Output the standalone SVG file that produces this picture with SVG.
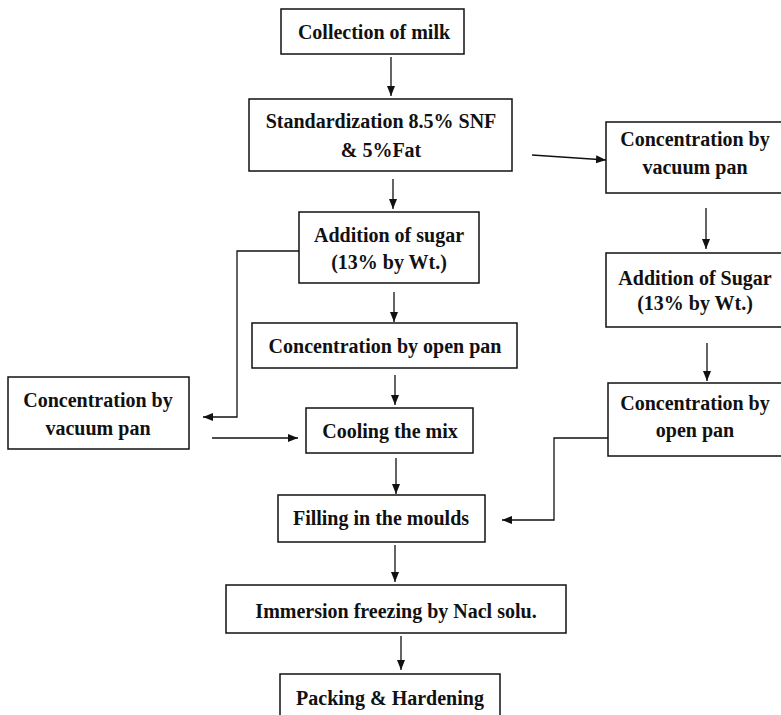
<svg xmlns="http://www.w3.org/2000/svg" width="781" height="715" viewBox="0 0 781 715">
<defs>
<style>
.box{fill:#fff;stroke:#111;stroke-width:1.5}
.t{font-family:"Liberation Serif","Times New Roman",serif;font-weight:bold;font-size:20px;fill:#111;text-anchor:middle}
.c{fill:none;stroke:#111;stroke-width:1.3}
</style>
<marker id="ah" markerUnits="userSpaceOnUse" markerWidth="10" markerHeight="10" viewBox="0 0 10 10" refX="10" refY="5" orient="auto">
<path d="M0,1 L10,5 L0,9 Z" fill="#111"/>
</marker>
</defs>
<rect width="781" height="715" fill="#fff"/>
<g id="connectors">
<line class="c" x1="391" y1="57" x2="391" y2="96" marker-end="url(#ah)"/>
<line class="c" x1="393" y1="179" x2="393" y2="209" marker-end="url(#ah)"/>
<line class="c" x1="394" y1="292" x2="394" y2="322" marker-end="url(#ah)"/>
<line class="c" x1="395" y1="375" x2="395" y2="405" marker-end="url(#ah)"/>
<line class="c" x1="396" y1="458" x2="396" y2="494" marker-end="url(#ah)"/>
<line class="c" x1="395" y1="545" x2="395" y2="582" marker-end="url(#ah)"/>
<line class="c" x1="401" y1="636" x2="401" y2="670" marker-end="url(#ah)"/>
<line class="c" x1="532" y1="155" x2="606" y2="160" marker-end="url(#ah)"/>
<line class="c" x1="706" y1="208" x2="706" y2="249" marker-end="url(#ah)"/>
<line class="c" x1="707" y1="343" x2="707" y2="381" marker-end="url(#ah)"/>
<polyline class="c" points="299,251 237,251 237,417 203,417" marker-end="url(#ah)"/>
<line class="c" x1="212" y1="438" x2="298" y2="438" marker-end="url(#ah)"/>
<polyline class="c" points="608,438 554,438 554,520 502,520" marker-end="url(#ah)"/>
</g>
<g id="n1"><rect class="box" x="281" y="9" width="183" height="45"/><text class="t" x="374" y="39">Collection of milk</text></g>
<g id="n2"><rect class="box" x="249" y="99" width="263" height="72"/><text class="t" x="381" y="128">Standardization 8.5% SNF</text><text class="t" x="381" y="157">&amp; 5%Fat</text></g>
<g id="n3"><rect class="box" x="299" y="212" width="180" height="71"/><text class="t" x="389" y="242">Addition of sugar</text><text class="t" x="389" y="269">(13% by Wt.)</text></g>
<g id="n4"><rect class="box" x="252" y="323" width="265" height="45"/><text class="t" x="385" y="353">Concentration by open pan</text></g>
<g id="n5"><rect class="box" x="306" y="408" width="167" height="45"/><text class="t" x="390" y="438">Cooling the mix</text></g>
<g id="n6"><rect class="box" x="278" y="495" width="207" height="47"/><text class="t" x="381" y="525">Filling in the moulds</text></g>
<g id="n7"><rect class="box" x="226" y="585" width="340" height="48"/><text class="t" x="396" y="618">Immersion freezing by Nacl solu.</text></g>
<g id="n8"><rect class="box" x="280" y="674" width="220" height="50"/><text class="t" x="390" y="705">Packing &amp; Hardening</text></g>
<g id="n9"><rect class="box" x="8" y="377" width="181" height="72"/><text class="t" x="98" y="407">Concentration by</text><text class="t" x="98" y="435">vacuum pan</text></g>
<g id="n10"><rect class="box" x="606" y="122" width="180" height="71"/><text class="t" x="695" y="146">Concentration by</text><text class="t" x="695" y="174">vacuum pan</text></g>
<g id="n11"><rect class="box" x="606" y="253" width="180" height="74"/><text class="t" x="695" y="285">Addition of Sugar</text><text class="t" x="695" y="310">(13% by Wt.)</text></g>
<g id="n12"><rect class="box" x="608" y="383" width="180" height="73"/><text class="t" x="695" y="410">Concentration by</text><text class="t" x="695" y="437">open pan</text></g>
</svg>
